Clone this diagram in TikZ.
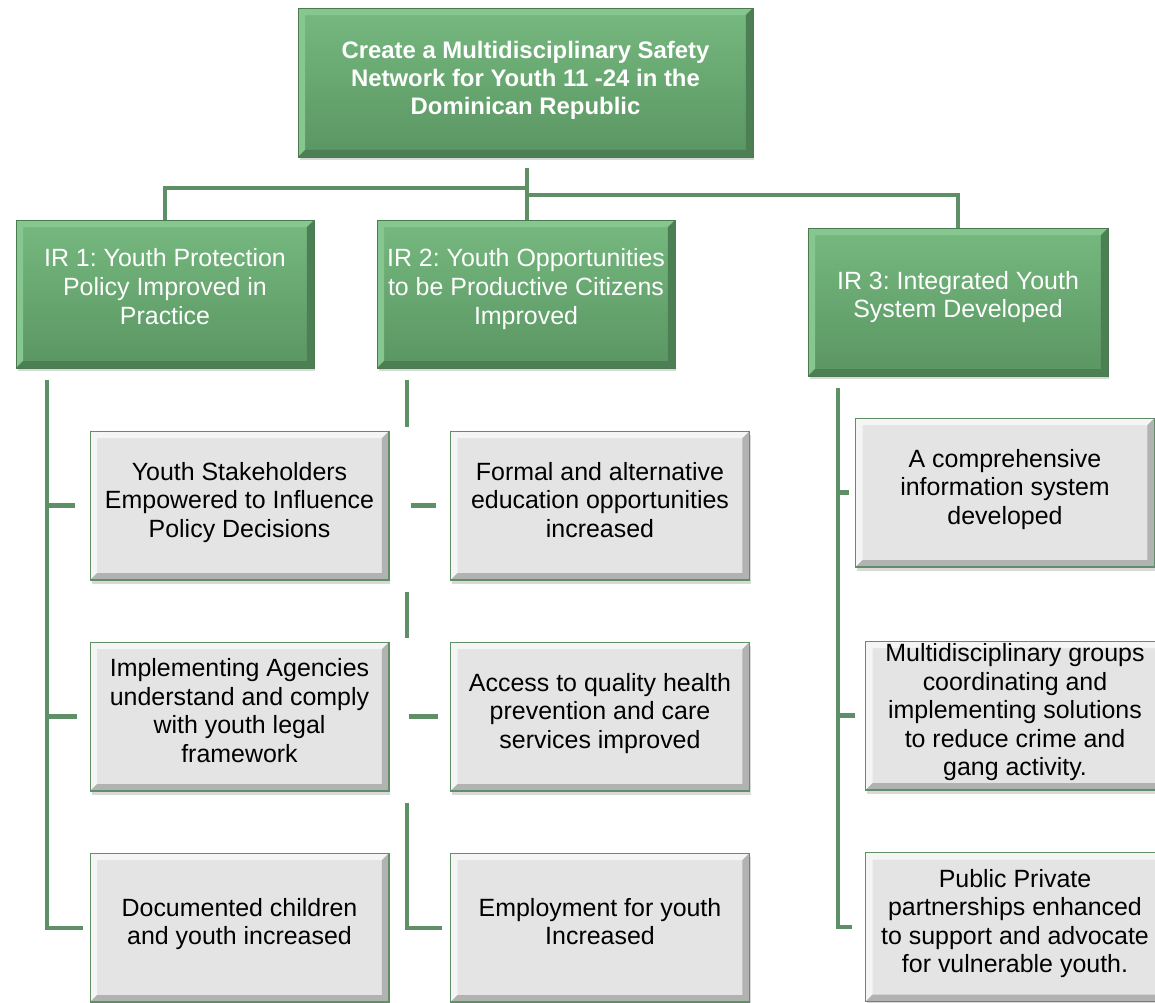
\documentclass[tikz,border=0pt]{standalone}
\usepackage{fontspec}
\setmainfont{Liberation Sans}
\usetikzlibrary{calc,shadows}
\frenchspacing

\definecolor{linkgreen}{HTML}{5E8F66}
\definecolor{irtop}{HTML}{76B97F}
\definecolor{irbot}{HTML}{5A9562}
\definecolor{irlight}{HTML}{86C78F}
\definecolor{irdark}{HTML}{4C7F53}
\definecolor{irborder}{HTML}{4A7A50}
\definecolor{resfill}{HTML}{E4E4E4}
\definecolor{reslight}{HTML}{F5F5F5}
\definecolor{resdark}{HTML}{B2B2B2}
\newcommand{\bevw}{0.14cm}

\tikzset{
	bevel/.style 2 args={path picture={
		\coordinate (bsw) at (path picture bounding box.south west);
		\coordinate (bne) at (path picture bounding box.north east);
		\fill[#1] (bsw) -- (bsw|-bne) -- (bne) -- ($(bne)+(-\bevw,-\bevw)$) -- ($(bsw|-bne)+(\bevw,-\bevw)$) -- ($(bsw)+(\bevw,\bevw)$) -- cycle;
		\fill[#2] (bsw) -- (bne|-bsw) -- (bne) -- ($(bne)+(-\bevw,-\bevw)$) -- ($(bne|-bsw)+(-\bevw,\bevw)$) -- ($(bsw)+(\bevw,\bevw)$) -- cycle;
	}},
	box/.style={rectangle, align=center, inner sep=0pt, drop shadow={opacity=0.3, shadow xshift=0.03cm, shadow yshift=-0.07cm}},
	goal/.style={box, draw=irborder, top color=irtop, bottom color=irbot, bevel={irlight}{irdark}, text=white, minimum width=9.1cm, minimum height=2.98cm, text depth=0.2cm, font=\fontsize{13.6}{16}\selectfont\bfseries},
	ir/.style={box, draw=irborder, top color=irtop, bottom color=irbot, bevel={irlight}{irdark}, text=white, minimum width=5.96cm, minimum height=2.96cm, text depth=0.3cm, font=\fontsize{14.2}{16.4}\selectfont},
	res/.style={box, draw=linkgreen, line width=0.6pt, fill=resfill, bevel={reslight}{resdark}, minimum width=5.98cm, minimum height=2.98cm, text depth=0.24cm, font=\fontsize{14.2}{16.2}\selectfont},
	link/.style={draw=linkgreen, line width=2.3pt}
}

\begin{document}
\begin{tikzpicture}[x=0.02cm, y=-0.02cm]
	\useasboundingbox (0,0) rectangle (1155,1002);

	\node[goal] (goal) at (525.5, 82.5) {Create a Multidisciplinary Safety\\Network for Youth 11 -24 in the\\Dominican Republic};

	\node[ir] (ir1) at (165, 294)  {IR 1: Youth Protection\\Policy Improved in\\Practice};
	\node[ir] (ir2) at (526, 294)  {IR 2: Youth Opportunities\\to be Productive Citizens\\Improved};
	\node[ir, minimum width=6cm] (ir3) at (958, 302)  {IR 3: Integrated Youth\\System Developed};

	\node[res] (res11) at (239.5, 505.5) {Youth Stakeholders\\Empowered to Influence\\Policy Decisions};
	\node[res] (res12) at (239.5, 716.5) {Implementing Agencies\\understand and comply\\with youth legal\\framework};
	\node[res] (res13) at (239.5, 927.5) {Documented children\\and youth increased};

	\node[res] (res21) at (600, 505.5) {Formal and alternative\\education opportunities\\increased};
	\node[res] (res22) at (600, 716.5) {Access to quality health\\prevention and care\\services improved};
	\node[res] (res23) at (600, 927.5) {Employment for youth\\Increased};

	\node[res] (res31) at (1005, 492.5) {A comprehensive\\information system\\developed};
	\node[res] (res32) at (1015, 715.5) {Multidisciplinary groups\\coordinating and\\implementing solutions\\to reduce crime and\\gang activity.};
	\node[res] (res33) at (1015, 927) {Public Private\\partnerships enhanced\\to support and advocate\\for vulnerable youth.};

	\coordinate (hub) at (527, 168);
	\coordinate (busL) at (527, 188);
	\coordinate (busR) at (527, 195);
	\draw[link] (hub) -- (hub |- ir2.north);
	\draw[link] (ir1.north) |- (busL);
	\draw[link] (ir3.north) |- (busR);

	\coordinate (spine1) at (47, 380);
	\draw[link] (spine1) |- ([xshift=-0.14cm]res13.west);
	\draw[link] (spine1 |- res11.west) -- ([xshift=-0.3cm]res11.west);
	\draw[link] (spine1 |- res12.west) -- ([xshift=-0.26cm]res12.west);

	\coordinate (spine2) at (407, 380);
	\coordinate (gap2a) at (407, 592);
	\coordinate (gap2b) at (407, 803);
	\draw[link] (spine2) -- ++(0, 47);
	\draw[link] (gap2a) -- ++(0, 46);
	\draw[link] (gap2b) |- ([xshift=-0.16cm]res23.west);
	\draw[link] ([xshift=-0.78cm]res21.west) -- ([xshift=-0.28cm]res21.west);
	\draw[link] ([xshift=-0.82cm]res22.west) -- ([xshift=-0.24cm]res22.west);

	\coordinate (spine3) at (838, 388);
	\draw[link] (spine3) |- ([xshift=-0.26cm]res33.west);
	\draw[link] (spine3 |- res31.west) -- ([xshift=-0.12cm]res31.west);
	\draw[link] (spine3 |- res32.west) -- ([xshift=-0.2cm]res32.west);

\end{tikzpicture}
\end{document}
